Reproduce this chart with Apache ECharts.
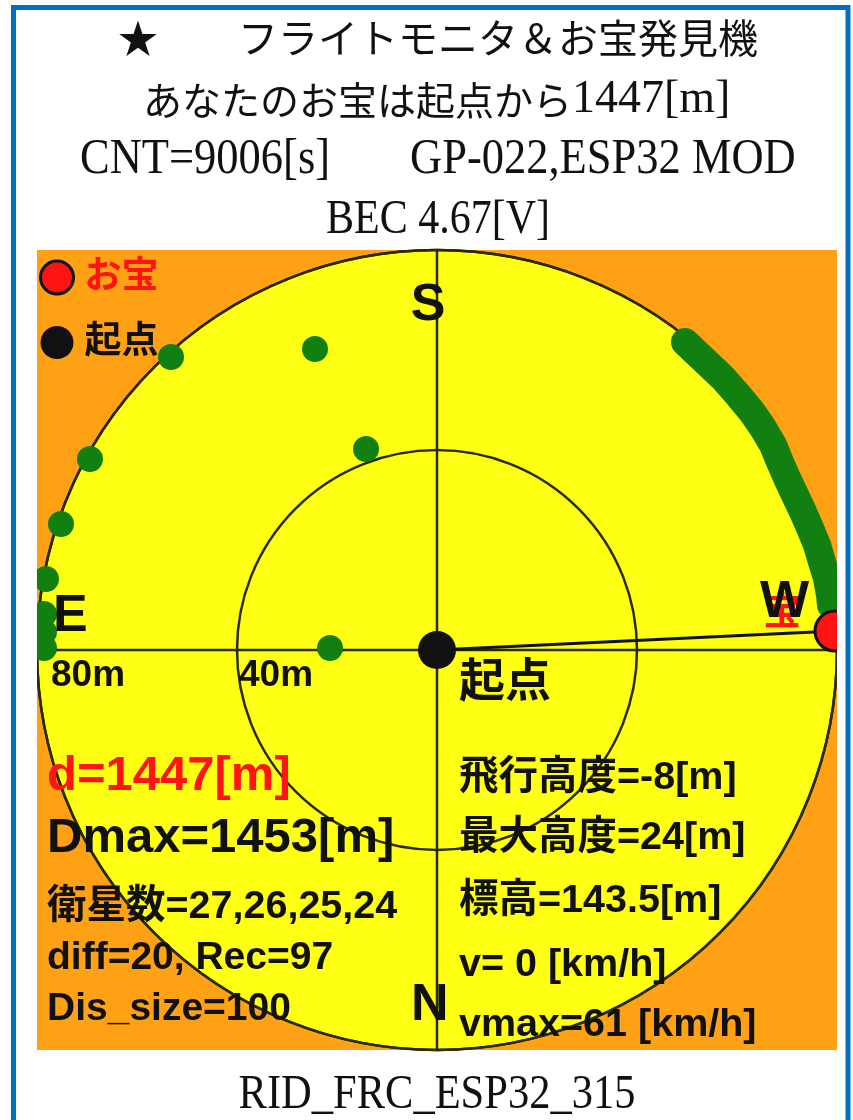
<!DOCTYPE html>
<html>
<head>
<meta charset="utf-8">
<script src="https://cdn.jsdelivr.net/npm/echarts@6/dist/echarts.min.js"></script>
<style>
html,body{margin:0;padding:0;background:#fff;}
#chart{width:853px;height:1120px;}
</style>
</head>
<body>
<div id="chart"></div>
<script>
// ---- data (metres, x: + = W / right, y: + = S / up) ----
const scatteredFixes = [
  [-53.2, 58.6], [-24.4, 60.2], [-14.2, 40.2], [-69.4, 38.2], [-75.2, 25.2],
  [-78.2, 14.2], [-78.6, 7.2], [-78.6, 3.6], [-78.6, 0.4], [-21.4, 0.4]
];
// dense run of fixes along the west rim (reads as a solid band)
const arcFixes = [
  [49.6, 61.6], [53.4, 58.0], [57.2, 54.4], [60.2, 51.0], [63.0, 47.6],
  [65.2, 44.4], [67.2, 41.0], [68.6, 37.6], [70.0, 34.4], [71.6, 31.0],
  [73.2, 27.6], [74.6, 24.4], [76.0, 21.0], [77.0, 17.6], [78.0, 14.4],
  [78.6, 11.0], [78.8, 9.0]
];
const originPoint = [0, 0];
const treasurePoint = [79.6, 3.8];
const ringTicks = [0, 40, 80];
const ringLabels = ['80m', '40m'];
const compassLabels = ['S', 'E', 'W', 'N'];
const legendNames = ['お宝', '起点'];

const headerTitle = '★　　フライトモニタ＆お宝発見機';
const distanceText = ['あなたのお宝は起点から', '1447[m]'];
const cntText = 'CNT=9006[s]';
const deviceText = 'GP-022,ESP32 MOD';
const becText = 'BEC 4.67[V]';
const footerText = 'RID_FRC_ESP32_315';
const leftInfo = ['d=1447[m]', 'Dmax=1453[m]', '衛星数=27,26,25,24', 'diff=20, Rec=97', 'Dis_size=100'];
const rightInfo = ['飛行高度=-8[m]', '最大高度=24[m]', '標高=143.5[m]', 'v= 0 [km/h]', 'vmax=61 [km/h]'];

// ---- styles ----
const SANS = "'Liberation Sans','Noto Sans CJK JP',sans-serif";
const SERIF = "'Liberation Serif','Noto Sans CJK JP',serif";
const CJK = "'Noto Sans CJK JP',sans-serif";
const ORANGE = '#ffa114', YELLOW = '#ffff14', GREEN = '#118011', RED = '#ff1414', INK = '#111', RULE = '#2a2a06';
const TOP_Z = 100;

function txt(text, x, y, size, opts) {
  opts = opts || {};
  return {
    type: 'text', x: x, y: y, z: TOP_Z, silent: true,
    scaleY: opts.scaleY || 1,
    style: {
      text: text, fill: opts.color || INK,
      fontSize: size, fontFamily: opts.family || SANS,
      fontWeight: opts.weight || 'bold',
      textAlign: opts.align || 'left', align: opts.align || 'left',
      textVerticalAlign: 'middle', verticalAlign: 'middle',
      rich: opts.rich
    }
  };
}

const graphics = [
  // masks outside plotting frame
  {type: 'rect', z: TOP_Z, silent: true, shape: {x: 0, y: 240, width: 37, height: 830}, style: {fill: '#fff'}},
  {type: 'rect', z: TOP_Z, silent: true, shape: {x: 837, y: 240, width: 16, height: 830}, style: {fill: '#fff'}},
  // page frame
  {type: 'rect', z: TOP_Z, silent: true, shape: {x: 13.5, y: 7.5, width: 834.5, height: 1130},
   style: {fill: 'none', stroke: '#0070c0', lineWidth: 5}},
  // header
  txt(headerTitle, 118, 38, 40, {family: CJK, weight: 'normal'}),
  txt('{a|' + distanceText[0] + '}{b|' + distanceText[1] + '}', 143, 100, 39, {
    family: CJK, weight: 'normal',
    rich: {
      a: {fontSize: 39, fontFamily: CJK, fill: INK},
      b: {fontSize: 46, fontFamily: SERIF, fill: INK}
    }
  }),
  txt(cntText, 80, 160, 44.5, {family: SERIF, weight: 'normal', scaleY: 1.15}),
  txt(deviceText, 410, 160, 44.5, {family: SERIF, weight: 'normal', scaleY: 1.15}),
  txt(becText, 438, 220, 42, {family: SERIF, weight: 'normal', scaleY: 1.15, align: 'center'}),
  txt(footerText, 437, 1095, 42.5, {family: SERIF, weight: 'normal', scaleY: 1.15, align: 'center'}),
  // compass
  txt(compassLabels[0], 428, 306, 52, {align: 'center'}),
  txt(compassLabels[1], 53, 617, 52),
  txt('宝', 763, 614, 38, {color: RED}),
  txt(compassLabels[2], 760, 603, 52),
  txt(compassLabels[3], 411, 1006, 52),
  // ring labels
  txt(ringLabels[0], 51, 676, 37),
  txt(ringLabels[1], 239, 676, 37),
  txt(legendNames[1], 459, 683, 46),
  // info
  txt(leftInfo[0], 47, 776, 49, {color: RED}),
  txt(leftInfo[1], 47, 838, 49),
  txt(leftInfo[2], 47, 907, 39.5),
  txt(leftInfo[3], 47, 958, 39),
  txt(leftInfo[4], 47, 1009, 39),
  txt(rightInfo[0], 459, 778, 39.5),
  txt(rightInfo[1], 459, 838, 39.5),
  txt(rightInfo[2], 459, 901, 39.5),
  txt(rightInfo[3], 459, 965, 39.5),
  txt(rightInfo[4], 459, 1025, 39.5)
];

const hiddenAxisParts = {
  axisLine: {show: false}, axisTick: {show: false}, axisLabel: {show: false}, splitLine: {show: false}
};

const chart = echarts.init(document.getElementById('chart'), null, {renderer: 'canvas'});
chart.setOption({
  animation: false,
  backgroundColor: '#fff',
  grid: {left: 37, top: 250, width: 800, height: 800, show: true, backgroundColor: ORANGE, borderWidth: 0, z: 0},
  xAxis: {type: 'value', min: -80, max: 80, show: false},
  yAxis: {type: 'value', min: -80, max: 80, show: false},
  polar: [
    {center: [437, 650], radius: 400},
    {center: [437, 650], radius: 400}
  ],
  angleAxis: [
    Object.assign({type: 'value', polarIndex: 0, min: 0, max: 360, interval: 90, startAngle: 0, z: 1}, hiddenAxisParts),
    {
      type: 'value', polarIndex: 1, min: 0, max: 360, interval: 90, startAngle: 0, z: 2,
      axisLine: {show: true, lineStyle: {color: RULE, width: 2.5}},
      axisTick: {show: false}, axisLabel: {show: false},
      splitLine: {show: true, lineStyle: {color: RULE, width: 2.5}}
    }
  ],
  radiusAxis: [
    Object.assign({
      type: 'value', polarIndex: 0, min: ringTicks[0], max: ringTicks[2], interval: ringTicks[1], z: 1,
      splitArea: {show: true, areaStyle: {color: [YELLOW, YELLOW]}}
    }, hiddenAxisParts),
    {
      type: 'value', polarIndex: 1, min: ringTicks[0], max: ringTicks[2], interval: ringTicks[1], z: 2,
      axisLine: {show: false}, axisTick: {show: false}, axisLabel: {show: false},
      splitLine: {show: true, lineStyle: {color: RULE, width: 2.5}}
    }
  ],
  legend: {
    orient: 'vertical', left: 34, top: 254, itemWidth: 33, itemHeight: 33, itemGap: 28,
    icon: 'circle', selectedMode: false, z: 60,
    textStyle: {fontSize: 37, fontWeight: 'bold', fontFamily: SANS, color: INK, lineHeight: 33, padding: [0, 0, 0, 6]},
    data: [
      {name: legendNames[0], textStyle: {color: RED}, itemStyle: {color: RED, borderColor: INK, borderWidth: 3}},
      {name: legendNames[1], itemStyle: {color: INK, borderWidth: 0}}
    ]
  },
  graphic: {elements: graphics},
  series: [
    {
      name: '軌跡', type: 'scatter', z: 3, silent: true,
      symbolSize: 26, itemStyle: {color: GREEN, opacity: 1},
      data: scatteredFixes
    },
    {
      name: '軌跡W', type: 'line', z: 3, silent: true, symbol: 'none',
      lineStyle: {color: GREEN, width: 28, cap: 'round', join: 'round'},
      data: arcFixes
    },
    {
      name: '方向', type: 'line', z: 4, silent: true, symbol: 'none',
      lineStyle: {color: INK, width: 3},
      data: [originPoint, treasurePoint]
    },
    {
      name: legendNames[1], type: 'scatter', z: 5, silent: true,
      symbolSize: 38, itemStyle: {color: INK, opacity: 1},
      data: [originPoint]
    },
    {
      name: legendNames[0], type: 'scatter', z: 6, silent: true,
      symbolSize: 40, itemStyle: {color: RED, borderColor: INK, borderWidth: 3, opacity: 1},
      data: [treasurePoint]
    }
  ]
});
</script>
</body>
</html>
